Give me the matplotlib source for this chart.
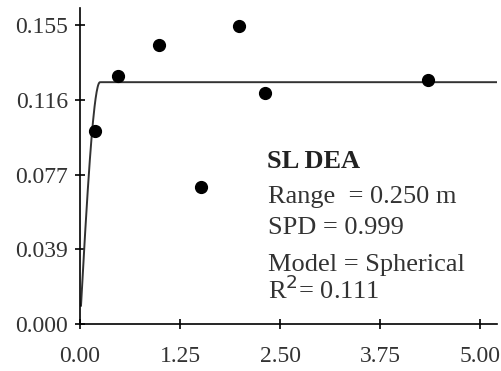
import numpy as np
import matplotlib.pyplot as plt

plt.rcParams['font.family'] = ['Liberation Serif', 'DejaVu Serif']

# Experimental semivariance per lag
lag = [0.19, 0.48, 0.99, 1.51, 1.99, 2.31, 4.35]
semivar = [0.100, 0.1286, 0.145, 0.071, 0.1545, 0.1197, 0.1265]

# Spherical model parameters
nugget = 0.000125
sill = 0.1255
model_range = 0.250

xticks = [0.00, 1.25, 2.50, 3.75, 5.00]
yticks = [0.0, 0.03875, 0.0775, 0.11625, 0.155]
ytick_labels = ['0.000', '0.039', '0.077', '0.116', '0.155']

W, H = 501, 371


def spherical(h):
    h = np.asarray(h)
    r = np.clip(h / model_range, 0, 1)
    return nugget + (sill - nugget) * (1.5 * r - 0.5 * r ** 3)


fig = plt.figure(figsize=(W / 100, H / 100), dpi=100)
ax = fig.add_axes([80 / W, 47 / H, 417 / W, 316 / H])

h = np.linspace(0.0125, 5.21, 800)
ax.plot(h, spherical(h), color='#333333', lw=1.4)
ax.plot(lag, semivar, 'o', color='black', markersize=8.5)

ax.set_xlim(0, 5.21)
ax.set_ylim(0, 0.164)
ax.set_xticks(xticks)
ax.set_xticklabels(['%.2f' % t for t in xticks])
ax.set_yticks(yticks)
ax.set_yticklabels(ytick_labels)
ax.tick_params(direction='inout', length=7, width=1.2, labelsize=17,
               colors='black', labelcolor='#333333')
ax.tick_params(axis='x', pad=12)
ax.tick_params(axis='y', pad=5)

for side in ['top', 'right']:
    ax.spines[side].set_visible(False)
for side in ['left', 'bottom']:
    ax.spines[side].set_linewidth(1.2)

# model summary, baselines given in pixels from the top
fig.text(267 / W, 1 - 168 / H, 'SL DEA', fontsize=19, fontweight='bold',
         color='#222222', va='baseline')
lines = ['Range  = 0.250 m', 'SPD = 0.999', 'Model = Spherical', 'R$^2$= 0.111']
baselines = [203, 234, 271, 299]
for s, yb in zip(lines, baselines):
    fig.text(268 / W, 1 - yb / H, s, fontsize=19, color='#333333', va='baseline')

fig.savefig('out.png', dpi=100)
